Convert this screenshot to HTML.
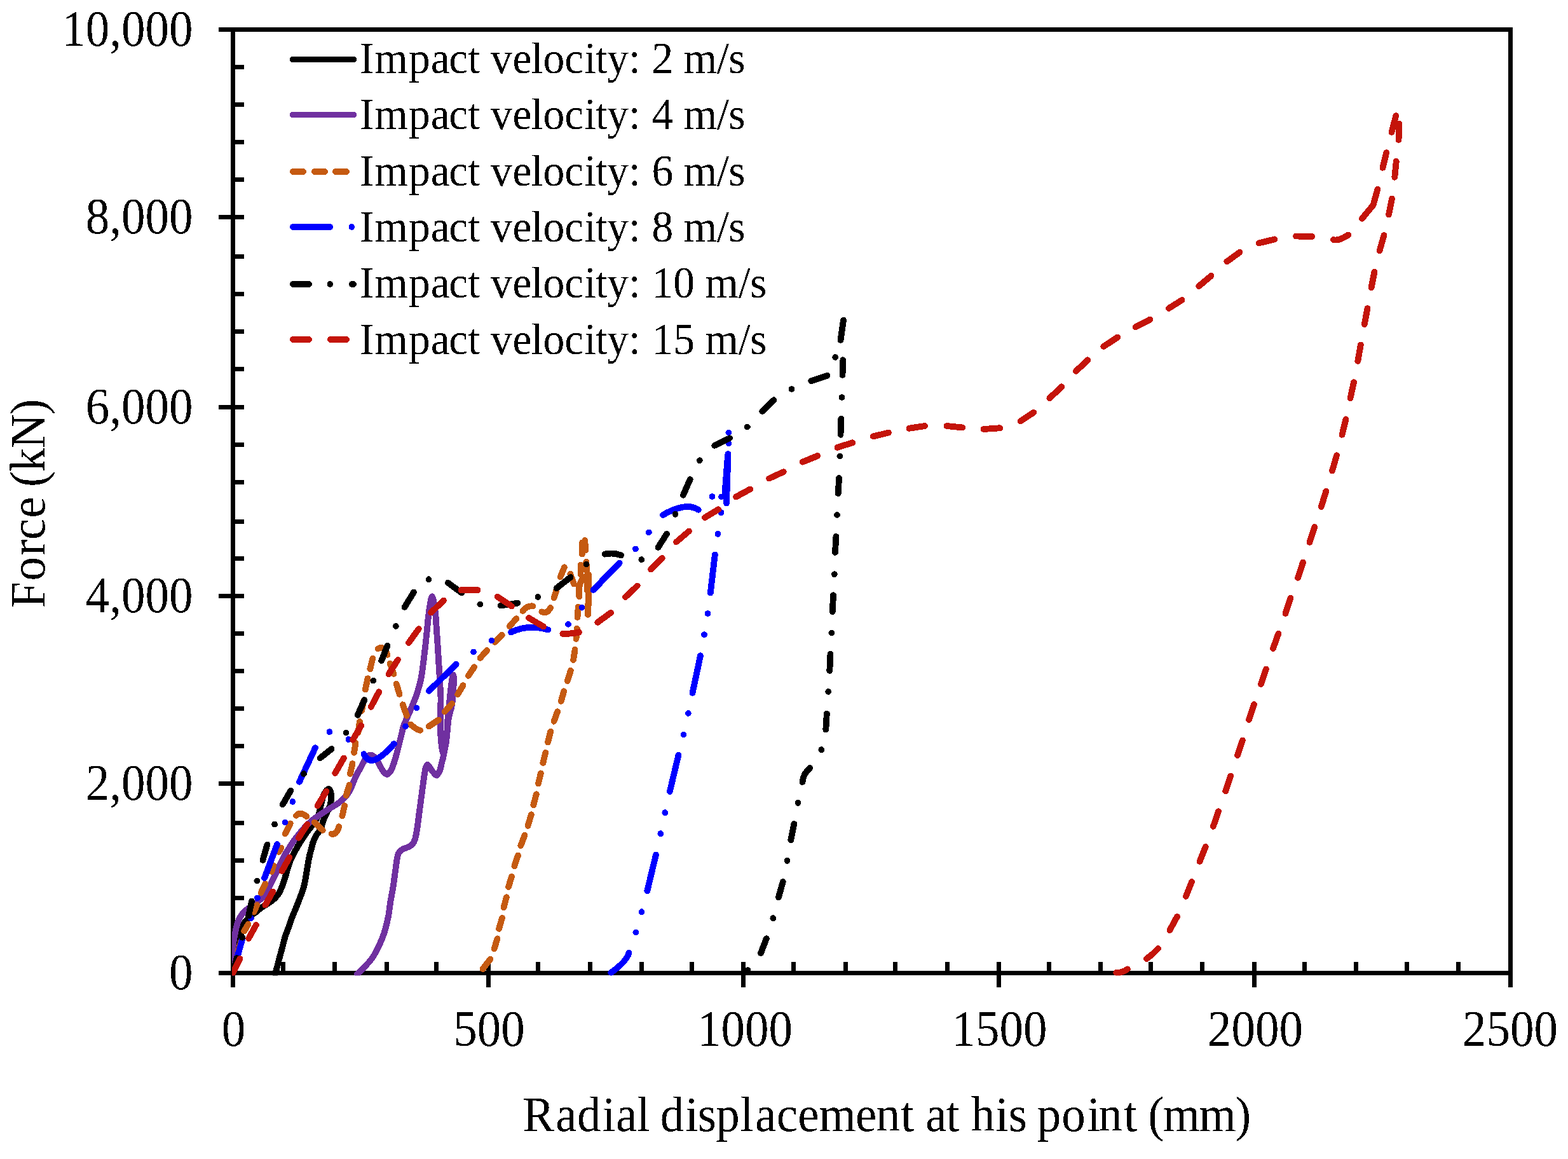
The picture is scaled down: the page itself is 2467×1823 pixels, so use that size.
<!DOCTYPE html>
<html lang="en"><head><meta charset="utf-8"><title>Force vs radial displacement</title>
<style>html,body{margin:0;padding:0;background:#fff}body{width:2467px;height:1823px;overflow:hidden}svg{display:block}</style>
</head><body>
<svg xmlns="http://www.w3.org/2000/svg" width="2467" height="1823" viewBox="0 0 2467 1823" font-family="'Liberation Serif', serif" fill="#000">
<defs><clipPath id="plot"><rect x="365" y="40" width="2016" height="1494.5"/></clipPath><filter id="bin" x="0" y="0" width="2467" height="1823" filterUnits="userSpaceOnUse" color-interpolation-filters="sRGB"><feComponentTransfer><feFuncA type="discrete" tableValues="0 1"/></feComponentTransfer></filter><filter id="binf" x="0" y="0" width="2467" height="1823" filterUnits="userSpaceOnUse" color-interpolation-filters="sRGB"><feComponentTransfer><feFuncA type="discrete" tableValues="0 1 1"/></feComponentTransfer></filter></defs>
<rect x="0" y="0" width="2467" height="1823" fill="#fff"/>
<g stroke="#000" stroke-width="7" fill="none" stroke-linecap="butt" shape-rendering="crispEdges">
<path d="M344 46.5 H2380.0 M2376.5 43.0 V1553 M366.5 43.0 V1553 M344 1530.5 H2380.0"/>
<path d="M366.5 105.5H384M366.5 164.5H384M366.5 223.5H384M366.5 282.5H384M344 341.5H384M366.5 403.5H384M366.5 462.5H384M366.5 521.5H384M366.5 580.5H384M344 640.5H384M366.5 699.5H384M366.5 758.5H384M366.5 820.5H384M366.5 878.5H384M344 937.5H384M366.5 996.5H384M366.5 1055.5H384M366.5 1114.5H384M366.5 1173.5H384M344 1232.5H384M366.5 1294.5H384M366.5 1353.5H384M366.5 1412.5H384M366.5 1471.5H384M445.5 1513V1530.5M526.5 1513V1530.5M608.5 1513V1530.5M686.5 1513V1530.5M768.5 1513V1553M846.5 1513V1530.5M928.5 1513V1530.5M1009.5 1513V1530.5M1088.5 1513V1530.5M1169.5 1513V1553M1248.5 1513V1530.5M1330.5 1513V1530.5M1408.5 1513V1530.5M1490.5 1513V1530.5M1571.5 1513V1553M1650.5 1513V1530.5M1731.5 1513V1530.5M1810.5 1513V1530.5M1891.5 1513V1530.5M1973.5 1513V1553M2052.5 1513V1530.5M2133.5 1513V1530.5M2213.5 1513V1530.5M2294.5 1513V1530.5"/>
</g>
<g fill="none" stroke-width="9.5" stroke-linecap="round" stroke-linejoin="round" clip-path="url(#plot)">
<path filter="url(#binf)" stroke="#000000" d="M366.5 1530.5C366.9 1526.2 367.1 1514.2 368.7 1504.7C370.3 1495.2 373.9 1481.8 376.2 1473.5C378.5 1465.2 379.7 1460.0 382.4 1454.8C385.1 1449.6 389.1 1445.6 392.4 1442.3C395.7 1439.0 399.5 1437.1 402.4 1434.8C405.3 1432.5 405.8 1431.5 409.9 1428.6C414.0 1425.7 422.7 1420.8 427.3 1417.3C431.9 1413.8 434.6 1411.1 437.3 1407.4C440.0 1403.7 441.7 1399.5 443.6 1394.9C445.5 1390.3 447.2 1384.5 448.6 1379.9C450.1 1375.3 450.9 1372.0 452.3 1367.4C453.8 1362.8 455.4 1357.1 457.3 1352.5C459.2 1347.9 461.6 1343.5 463.5 1340.0C465.4 1336.5 467.0 1333.8 468.5 1331.2C470.0 1328.7 470.0 1328.3 472.3 1324.7C474.6 1321.1 479.0 1314.3 482.3 1309.7C485.6 1305.1 489.1 1301.8 492.2 1297.2C495.3 1292.6 498.9 1287.2 501.0 1282.2C503.1 1277.2 503.5 1272.2 504.7 1267.3C505.9 1262.4 506.9 1256.8 508.2 1253.0C509.5 1249.2 511.1 1246.5 512.6 1244.5C514.1 1242.5 515.9 1240.4 517.2 1241.0C518.6 1241.6 520.2 1244.0 520.7 1248.0C521.2 1252.0 520.9 1259.9 519.9 1264.8C518.9 1269.7 516.6 1272.8 514.7 1277.2C512.8 1281.6 510.2 1286.6 508.5 1291.0C506.8 1295.4 506.6 1299.5 504.7 1303.5C502.8 1307.5 499.3 1311.0 497.2 1314.7C495.1 1318.4 493.4 1322.4 492.2 1325.9C490.9 1329.5 490.5 1332.8 489.7 1336.0C488.9 1339.2 488.1 1340.8 487.2 1345.0C486.3 1349.2 485.1 1355.4 484.1 1361.2C483.1 1367.0 482.1 1373.9 481.0 1379.9C479.9 1385.9 478.8 1392.2 477.3 1397.4C475.9 1402.6 474.2 1406.1 472.3 1411.1C470.4 1416.1 468.1 1422.1 466.0 1427.3C463.9 1432.5 461.9 1436.9 459.8 1442.3C457.7 1447.7 455.5 1454.6 453.6 1459.8C451.7 1465.0 450.3 1468.1 448.6 1473.5C446.9 1478.9 445.3 1486.0 443.6 1492.2C441.9 1498.4 440.4 1504.2 438.6 1510.9C436.8 1517.6 433.9 1528.6 433.0 1532.1"/>
<path filter="url(#binf)" stroke="#7030A0" d="M366.5 1530.5C366.4 1526.2 365.6 1512.1 365.6 1504.7C365.7 1497.3 366.1 1492.2 366.8 1486.0C367.5 1479.8 368.9 1472.9 370.0 1467.3C371.1 1461.7 372.2 1456.7 373.7 1452.3C375.1 1447.9 376.6 1444.3 378.7 1441.0C380.8 1437.7 383.3 1435.0 386.2 1432.3C389.1 1429.6 391.4 1428.5 396.2 1424.8C401.0 1421.1 410.1 1415.3 414.9 1409.9C419.7 1404.5 422.0 1397.8 424.9 1392.4C427.8 1387.0 429.8 1382.6 432.3 1377.4C434.8 1372.2 437.3 1366.4 439.8 1361.2C442.3 1356.0 444.6 1351.1 447.3 1346.2C450.0 1341.3 453.5 1336.0 456.0 1332.0C458.5 1328.0 459.6 1325.9 462.3 1322.2C465.0 1318.5 468.8 1313.9 472.3 1309.7C475.8 1305.5 480.0 1300.7 483.5 1297.2C487.0 1293.7 489.8 1291.4 493.5 1288.5C497.2 1285.6 501.6 1282.6 506.0 1279.7C510.4 1276.8 515.3 1273.7 519.7 1271.0C524.1 1268.3 528.5 1266.2 532.2 1263.5C535.9 1260.8 539.2 1257.9 542.1 1254.8C545.0 1251.7 547.5 1248.3 549.6 1244.8C551.7 1241.3 552.9 1237.6 554.6 1233.6C556.3 1229.6 557.9 1225.4 560.0 1221.0C562.1 1216.6 565.0 1212.0 567.5 1207.4C570.0 1202.8 572.5 1196.9 575.0 1193.6C577.5 1190.3 579.8 1187.6 582.5 1187.4C585.2 1187.2 588.7 1189.7 591.2 1192.4C593.7 1195.1 595.5 1200.3 597.4 1203.6C599.3 1206.9 600.5 1210.0 602.4 1212.4C604.3 1214.8 606.6 1218.0 608.7 1218.0C610.8 1218.0 613.0 1215.4 614.9 1212.4C616.8 1209.4 618.4 1204.1 619.9 1199.9C621.4 1195.7 622.4 1192.0 623.6 1187.4C624.9 1182.8 626.1 1177.4 627.4 1172.4C628.6 1167.4 629.9 1162.5 631.1 1157.5C632.4 1152.5 633.5 1146.9 634.9 1142.5C636.3 1138.1 637.4 1135.9 639.5 1131.0C641.6 1126.1 644.8 1119.3 647.3 1113.2C649.8 1107.1 652.3 1101.8 654.8 1094.5C657.2 1087.2 660.2 1077.8 662.0 1069.5C663.8 1061.2 664.7 1052.8 665.8 1044.5C666.9 1036.2 667.8 1027.9 668.8 1019.6C669.8 1011.3 670.6 1002.9 671.5 994.6C672.4 986.3 673.1 977.0 674.0 969.7C674.9 962.4 675.6 956.2 676.6 951.0C677.6 945.8 678.8 938.0 680.0 938.3C681.2 938.6 682.7 947.7 683.6 953.0C684.5 958.3 685.1 963.8 685.6 970.0C686.1 976.2 686.4 982.8 686.9 990.0C687.4 997.2 687.9 1004.2 688.5 1013.3C689.1 1022.4 689.8 1034.1 690.4 1044.5C691.0 1054.9 691.8 1066.3 692.3 1075.7C692.8 1085.1 693.5 1091.3 693.5 1100.7C693.5 1110.1 692.6 1123.0 692.6 1132.0C692.6 1141.0 692.7 1147.4 693.2 1155.0C693.7 1162.6 694.6 1172.6 695.4 1177.4C696.2 1182.2 697.0 1185.2 698.0 1184.0C699.0 1182.8 700.6 1174.8 701.5 1170.0C702.4 1165.2 702.6 1161.5 703.1 1155.0C703.6 1148.5 703.8 1139.0 704.4 1131.0C705.0 1123.0 706.2 1114.1 706.9 1107.0C707.6 1099.9 708.0 1094.4 708.7 1088.2C709.4 1082.0 710.3 1074.5 711.0 1070.0C711.7 1065.5 712.2 1061.4 712.8 1061.4C713.3 1061.4 714.3 1065.5 714.3 1070.0C714.3 1074.5 713.1 1082.0 712.6 1088.2C712.1 1094.4 712.5 1099.9 711.4 1107.0C710.2 1114.1 707.1 1123.0 705.7 1131.0C704.4 1139.0 704.1 1148.2 703.3 1155.0C702.5 1161.8 702.0 1166.2 701.0 1172.0C700.0 1177.8 698.5 1185.3 697.5 1190.0C696.5 1194.7 695.9 1196.5 695.0 1200.0C694.1 1203.5 693.4 1208.1 692.3 1211.1C691.2 1214.1 689.5 1216.7 688.5 1218.0C687.5 1219.3 687.5 1220.1 686.0 1219.2C684.5 1218.3 681.7 1214.8 679.8 1212.4C677.9 1210.0 676.0 1206.5 674.8 1204.9C673.5 1203.3 673.1 1202.6 672.3 1203.0C671.5 1203.4 670.5 1205.0 669.8 1207.4C669.1 1209.8 668.5 1213.7 667.9 1217.4C667.3 1221.1 666.8 1224.6 666.1 1229.8C665.4 1235.0 664.4 1242.2 663.6 1248.5C662.8 1254.8 661.9 1261.0 661.1 1267.3C660.3 1273.5 659.4 1279.8 658.6 1286.0C657.8 1292.2 657.0 1299.1 656.1 1304.7C655.2 1310.3 654.2 1315.8 653.0 1319.7C651.8 1323.7 650.6 1326.2 648.6 1328.4C646.6 1330.6 643.8 1331.5 641.1 1332.8C638.4 1334.1 634.9 1334.5 632.4 1336.5C629.9 1338.5 627.7 1339.4 626.0 1345.0C624.3 1350.6 623.2 1362.2 622.0 1370.0C620.8 1377.8 620.2 1384.1 619.0 1392.0C617.8 1399.9 615.9 1408.9 614.5 1417.3C613.1 1425.7 612.5 1434.0 610.8 1442.3C609.1 1450.6 606.8 1460.0 604.5 1467.3C602.2 1474.6 599.9 1479.8 597.0 1486.0C594.1 1492.2 590.4 1499.5 587.1 1504.7C583.8 1509.9 581.3 1512.6 577.1 1517.2C572.9 1521.8 564.6 1529.6 562.1 1532.1"/>
<path filter="url(#binf)" stroke="#C55A11" d="M366.5 1530.5L371.0 1514.0M374.5 1497.5L379.0 1481.0M384.3 1464.5L390.5 1453.8M399.3 1434.6L404.3 1423.8M410.5 1404.5L417.3 1390.0M427.3 1370.9L430.1 1361.4M438.6 1340.0L442.3 1333.7M448.6 1311.6L456.7 1295.3M466.0 1282.9Q471.6 1275.9 482.3 1284.1M494.7 1293.5L507.8 1305.9M521.6 1311.6Q529.4 1313.5 533.2 1300.3M538.4 1283.5L542.1 1267.3M544.6 1251.0L549.6 1234.8M550.9 1217.3L554.6 1201.1M557.1 1183.7L559.6 1168.7M563.4 1152.5L565.9 1135.0M569.0 1118.0L572.5 1101.5M574.8 1084.6L578.5 1067.2M582.3 1052.2L586.3 1035.6M594.6 1020.5Q604.5 1014.4 609.5 1029.8M613.5 1043.5L619.5 1060.0M623.6 1075.7L628.6 1092.0M633.6 1108.2L639.9 1125.7M646.0 1139.5Q656.0 1148.3 661.1 1148.7M674.8 1142.5L689.8 1132.5M699.8 1119.4L711.0 1106.9M720.2 1092.2L728.6 1078.0M736.8 1062.9L746.2 1049.2M755.5 1034.9L766.1 1023.0M778.6 1009.9L789.8 998.7M801.7 985.0L812.3 973.1M822.4 960.9Q829.5 952.2 838.6 953.5M852.4 962.2Q860.3 966.5 866.1 956.0M871.7 940.3L876.1 926.0M881.7 907.3L887.9 892.3M897.3 902.9L902.9 918.5M916.0 853.5L915.8 871.5M920.2 849.8L921.4 865.5M913.5 888.5L913.5 903.5M922.3 883.5L923.5 898.5M919.0 908.0Q908.4 917.9 911.4 938.3M923.9 904.0L923.9 929.0M926.4 904.0L926.4 951.0M925.0 951.0L925.0 967.0M909.8 954.7L908.5 971.0M907.8 988.7L906.5 1004.9M904.6 1021.8L902.1 1038.0M897.8 1054.8L892.8 1071.1M887.2 1087.3L882.8 1102.9M877.2 1119.1L871.6 1134.7M866.3 1150.5L862.0 1167.5M858.3 1183.8L854.3 1200.0M850.8 1216.3L847.0 1232.5M843.8 1249.3L839.3 1266.3M835.8 1281.3L830.5 1298.8M825.5 1313.8L819.3 1330.0M815.0 1345.5L809.3 1362.5M805.0 1378.8L800.0 1395.0M796.8 1411.3L792.5 1427.5M790.0 1443.8L785.0 1460.8M782.5 1476.3L777.5 1492.5M771.3 1508.8L759.5 1524.0"/>
<path filter="url(#binf)" stroke="#0000FF" d="M366.5 1530.5L381.5 1476.0M394.9 1444.2h.01M404.9 1412.4h.01M416.1 1381.2L436.0 1328.0M448.6 1293.5h.01M460.4 1261.0h.01M471.0 1229.8L496.0 1176.2M518.4 1151.2h.01M548.4 1163.1h.01M572.5 1186.2Q583.6 1211.8 619.9 1169.9M638.0 1142.5h.01M655.5 1113.5h.01M674.8 1086.8L717.7 1044.8M745.0 1025.5h.01M773.4 1007.5h.01M804.0 994.6Q830.9 981.4 862.3 990.6M894.0 981.8h.01M915.4 955.7h.01M933.5 927.9L974.7 885.4M999.9 863.4h.01M1020.8 837.4h.01M1043.0 810.0Q1079.1 789.1 1098.8 801.8M1120.5 781.0h.01M1135.0 781.5h.01M1143.0 791.5L1145.5 714.0M1146.3 697.5h.01M1146.3 680.5h.01M1145.0 716.0L1140.5 775.0M1134.5 806.2h.01M1129.4 839.8h.01M1124.8 872.5L1117.8 932.5M1113.5 965.0h.01M1108.0 998.3h.01M1102.0 1031.3L1089.5 1090.0M1082.8 1122.0h.01M1075.5 1155.5h.01M1067.5 1187.5L1053.8 1245.0M1046.3 1278.3h.01M1039.3 1311.3h.01M1032.0 1344.5L1018.3 1401.3M1009.5 1434.3h.01M1000.3 1466.5h.01M989.3 1498.8Q987.3 1510.6 961.3 1530.0"/>
<path filter="url(#binf)" stroke="#000000" d="M366.5 1530.5L372.5 1507.0M381.2 1474.7h.01M391.2 1440.4L396.0 1417.5M404.3 1385.5h.01M413.4 1353.0L420.5 1328.4M432.1 1296.6h.01M444.8 1265.4L457.3 1243.6M477.9 1217.1h.01M503.5 1192.4L521.6 1178.0M544.6 1152.5h.01M562.7 1124.7L573.3 1101.0M587.3 1070.6h.01M600.2 1039.2L609.5 1015.5M622.8 984.9h.01M636.5 955.0L651.0 931.5M674.5 911.3h.01M705.0 916.8L726.3 932.5M755.3 950.5h.01M787.5 952.6L814.5 948.6M846.4 939.0h.01M875.5 925.2L897.5 908.0M922.5 887.6h.01M951.6 871.7Q965.0 868.5 977.2 873.3M1009.3 880.2h.01M1035.5 861.0L1049.0 839.7M1062.5 808.8h.01M1075.0 778.7L1085.7 754.0M1100.8 724.3h.01M1124.3 700.8L1148.0 689.3M1175.8 671.5h.01M1199.3 647.0L1217.5 629.3M1245.5 612.0h.01M1276.3 599.3L1301.3 590.8M1314.3 562.0h.01M1322.5 535.0L1327.0 503.8M1326.3 566.3L1325.5 590.0M1324.5 625.0h.01M1323.3 658.8L1322.5 683.8M1321.3 717.5h.01M1320.0 752.0L1318.8 776.3M1317.0 810.0h.01M1315.4 844.0L1314.0 868.8M1312.8 903.3h.01M1311.0 936.3L1309.8 962.0M1308.3 995.5h.01M1306.5 1028.8L1305.3 1055.0M1303.3 1088.0h.01M1300.8 1122.5L1299.3 1147.5M1292.3 1179.3h.01M1274.3 1208.0Q1264.2 1216.0 1262.5 1230.0M1255.5 1262.8h.01M1249.3 1295.8L1244.3 1321.3M1238.5 1353.8h.01M1231.8 1386.8L1225.0 1411.3M1216.3 1444.3h.01M1205.8 1476.3L1197.0 1499.3M1176.5 1526.0h.01"/>
<path filter="url(#binf)" stroke="#C4140A" d="M366.5 1530.5L377.4 1508.0M391.2 1476.0L403.0 1454.8M417.4 1423.6L429.2 1402.4M443.6 1369.9L455.4 1348.7M469.8 1317.8L483.5 1296.6M499.7 1267.3L513.4 1244.8M527.2 1216.1L540.9 1192.4M555.2 1163.7L568.3 1141.2M583.7 1111.9L596.2 1088.2M611.5 1060.4L626.0 1037.8M643.0 1011.0L658.7 989.2M678.0 963.6L698.0 944.5M725.5 928.2L751.5 928.2M782.5 938.5L805.0 953.6M832.0 972.0L855.0 985.5M885.3 996.8Q901.3 996.9 910.9 994.3M940.3 978.8L961.2 963.7M984.0 939.0L1002.8 921.4M1024.0 895.5L1041.8 878.0M1064.0 852.5L1084.0 835.5M1109.0 814.0L1130.2 801.3M1158.0 781.5L1180.4 769.4M1210.2 752.5L1232.7 742.2M1262.6 726.7L1286.3 717.0M1317.5 703.8L1341.3 696.3M1373.8 686.3L1398.0 680.5M1430.5 673.8L1455.0 670.0M1489.5 670.0L1514.3 672.5M1547.5 675.0L1573.3 673.3M1605.5 662.5L1626.3 648.8M1651.3 626.3L1670.5 608.3M1693.0 583.8L1711.3 566.3M1736.3 545.0L1758.3 530.5M1786.8 514.3L1809.5 502.5M1838.8 485.0L1859.5 472.0M1886.3 450.0L1905.5 433.8M1930.3 411.3L1950.5 396.8M1980.5 382.3L2005.5 376.3M2039.0 371.6L2064.3 372.0M2098.0 377.0Q2106.3 379.4 2121.3 369.5M2143.0 343.8L2160.5 322.5L2160.5 322.5L2167.5 297.5M2175.5 263.8L2181.3 240.0M2189.5 208.0L2196.3 182.0M2201.6 194.5L2200.5 220.0M2196.8 253.8L2194.3 278.8M2190.0 312.5L2185.0 337.5M2177.5 370.0L2170.5 394.5M2162.5 427.5L2157.5 452.5M2151.5 485.0L2146.8 510.0M2140.8 542.5L2136.3 568.0M2130.0 601.3L2124.5 626.3M2117.5 659.3L2111.5 683.8M2103.0 716.3L2096.0 740.5M2086.3 772.5L2078.8 797.0M2068.3 828.8L2060.5 853.0M2050.0 884.5L2042.0 908.8M2030.5 940.8L2022.5 965.0M2011.3 996.8L2003.0 1020.0M1992.0 1052.5L1984.0 1076.3M1973.0 1108.0L1965.0 1132.0M1955.0 1164.5L1947.0 1188.0M1936.3 1220.5L1928.2 1244.4M1917.0 1276.3L1908.8 1300.0M1896.8 1331.8L1887.5 1355.0M1875.0 1387.0L1865.8 1410.0M1852.0 1441.8L1840.5 1463.0M1822.0 1492.0Q1812.1 1502.6 1803.8 1508.0M1773.8 1524.3Q1765.0 1530.4 1756.3 1530.0"/>
</g>
<g filter="url(#bin)">
<g font-size="75" text-anchor="end">
<text transform="translate(303.6 71.8) scale(1 1.07)">10,000</text>
<text transform="translate(303.6 366.8) scale(1 1.07)">8,000</text>
<text transform="translate(303.6 665.8) scale(1 1.07)">6,000</text>
<text transform="translate(303.6 962.8) scale(1 1.07)">4,000</text>
<text transform="translate(303.6 1257.8) scale(1 1.07)">2,000</text>
<text transform="translate(303.6 1555.8) scale(1 1.07)">0</text>
</g>
<g font-size="75" text-anchor="middle">
<text transform="translate(367.5 1645) scale(1 1.07)">0</text>
<text transform="translate(769.5 1645) scale(1 1.07)">500</text>
<text transform="translate(1172.0 1645) scale(1 1.07)">1000</text>
<text transform="translate(1572.5 1645) scale(1 1.07)">1500</text>
<text transform="translate(1975.1 1645) scale(1 1.07)">2000</text>
<text transform="translate(2376.0 1645) scale(1 1.07)">2500</text>
</g>
<text font-size="75" xml:space="preserve" transform="translate(821.66 1779) scale(1 1.03)" x="0.5 52.5 86.4 126.0 147.3 180.4 199.8 217.0 256.3 276.1 304.5 343.2 366.4 400.2 433.5 466.8 524.3 556.9 595.6 616.2 634.7 666.8 687.5 706.1 744.3 765.2 792.9 810.1 848.6 888.6 906.5 946.5 966.6 984.7 1008.0 1064.8 1121.5">Radial displacement at his point (mm)</text>
<text font-size="75" xml:space="preserve" transform="translate(69.7 791) rotate(-90) scale(1 1.04)" x="-165.6 -122.6 -82.8 -58.1 -23.7 8.2 25.1 48.9 85.4 138.6">Force (kN)</text>
<text font-size="67.6" xml:space="preserve" transform="translate(566.8 115) scale(1 1.02)" x="-0.8 22.5 76.3 110.9 139.5 169.5 188.3 205.3 239.6 268.7 287.7 321.5 352.4 370.3 388.5 422.3 441.1 458.7 491.8 508.7 561.2 579.5">Impact velocity: 2 m/s</text>
<text font-size="67.6" xml:space="preserve" transform="translate(566.8 203) scale(1 1.02)" x="-0.8 22.5 76.3 110.9 139.5 169.5 188.3 205.3 239.6 268.7 287.7 321.5 352.4 370.3 388.5 422.3 441.1 458.7 491.8 508.7 561.2 579.5">Impact velocity: 4 m/s</text>
<text font-size="67.6" xml:space="preserve" transform="translate(566.8 292) scale(1 1.02)" x="-0.8 22.5 76.3 110.9 139.5 169.5 188.3 205.3 239.6 268.7 287.7 321.5 352.4 370.3 388.5 422.3 441.1 458.7 491.8 508.7 561.2 579.5">Impact velocity: 6 m/s</text>
<text font-size="67.6" xml:space="preserve" transform="translate(566.8 380.2) scale(1 1.02)" x="-0.8 22.5 76.3 110.9 139.5 169.5 188.3 205.3 239.6 268.7 287.7 321.5 352.4 370.3 388.5 422.3 441.1 458.7 491.8 508.7 561.2 579.5">Impact velocity: 8 m/s</text>
<text font-size="67.6" xml:space="preserve" transform="translate(566.8 468) scale(1 1.02)" x="-0.8 22.5 76.3 110.9 139.5 169.5 188.3 205.3 239.6 268.7 287.7 321.5 352.4 370.3 388.5 422.3 441.1 458.7 492.5 525.6 542.5 595.0 613.3">Impact velocity: 10 m/s</text>
<text font-size="67.6" xml:space="preserve" transform="translate(566.8 557) scale(1 1.02)" x="-0.8 22.5 76.3 110.9 139.5 169.5 188.3 205.3 239.6 268.7 287.7 321.5 352.4 370.3 388.5 422.3 441.1 458.7 492.5 525.6 542.5 595.0 613.3">Impact velocity: 15 m/s</text>
</g>
<path d="M460.70 93.5H556.30" stroke="#000000" stroke-width="9.4" stroke-linecap="round" fill="none" filter="url(#binf)"/>
<path d="M460.70 180.5H556.30" stroke="#7030A0" stroke-width="9.4" stroke-linecap="round" fill="none" filter="url(#binf)"/>
<path d="M460.70 270H477.30M494.70 270H511.10M527.70 270H545.30" stroke="#C55A11" stroke-width="9.4" stroke-linecap="round" fill="none" filter="url(#binf)"/>
<path d="M460.70 357H519.40M553.40 357H553.41" stroke="#0000FF" stroke-width="9.4" stroke-linecap="round" fill="none" filter="url(#binf)"/>
<path d="M460.70 447H486.30M519.45 447H519.46M553.60 447H556.30" stroke="#000000" stroke-width="9.4" stroke-linecap="round" fill="none" filter="url(#binf)"/>
<path d="M460.70 534H486.30M519.70 534H545.30" stroke="#C4140A" stroke-width="9.4" stroke-linecap="round" fill="none" filter="url(#binf)"/>
</svg>
</body></html>
